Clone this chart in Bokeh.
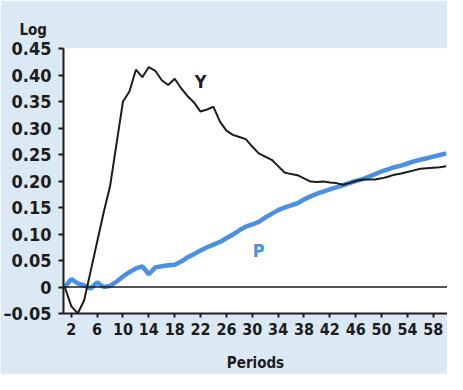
from bokeh.plotting import figure
from bokeh.models import Range1d, FixedTicker, Span, Label, Title
from bokeh.embed import file_html
from bokeh.resources import INLINE

periods = list(range(1, 61))
y_values = [0.0, -0.036, -0.05, -0.025, 0.03, 0.085, 0.14, 0.19, 0.27, 0.35,
            0.369, 0.41, 0.396, 0.415, 0.408, 0.39, 0.381, 0.393, 0.375, 0.36,
            0.348, 0.331, 0.335, 0.34, 0.312, 0.295, 0.287, 0.283, 0.279, 0.265,
            0.252, 0.246, 0.24, 0.228, 0.216, 0.213, 0.211, 0.205, 0.199, 0.198,
            0.199, 0.197, 0.196, 0.193, 0.196, 0.2, 0.203, 0.203, 0.203, 0.205,
            0.208, 0.212, 0.214, 0.217, 0.22, 0.223, 0.224, 0.225, 0.226, 0.228]
p_values = [0.0, 0.015, 0.007, 0.003, -0.003, 0.009, 0.0, 0.002, 0.01, 0.02,
            0.028, 0.035, 0.039, 0.024, 0.037, 0.039, 0.041, 0.042, 0.048, 0.056,
            0.062, 0.069, 0.075, 0.08, 0.085, 0.092, 0.099, 0.107, 0.114, 0.118,
            0.123, 0.131, 0.138, 0.145, 0.15, 0.154, 0.158, 0.165, 0.171, 0.176,
            0.18, 0.184, 0.188, 0.192, 0.196, 0.2, 0.203, 0.208, 0.213, 0.218,
            0.222, 0.226, 0.229, 0.233, 0.237, 0.24, 0.243, 0.246, 0.249, 0.252]
x_ticks = [2, 6, 10, 14, 18, 22, 26, 30, 34, 38, 42, 46, 50, 54, 58]
y_ticks = [-0.05, 0, 0.05, 0.1, 0.15, 0.2, 0.25, 0.3, 0.35, 0.4, 0.45]
y_tick_labels = ["\u20130.05", "0", "0.05", "0.10", "0.15", "0.20", "0.25",
                 "0.30", "0.35", "0.40", "0.45"]
y_unit_label = "Log"
x_axis_label = "Periods"
series_names = ["Y", "P"]

FONT = "DejaVu Sans Condensed"
BG = "#dbe9f5"
BLUE = "#4a8fe2"
INK = "#1c1c1c"

p = figure(width=447, height=374, output_backend="svg", toolbar_location=None,
           x_range=Range1d(0.8, 60.2), y_range=Range1d(-0.05, 0.45),
           min_border_left=60, min_border_right=0, min_border_top=48,
           min_border_bottom=59)
p.background_fill_color = "white"
p.border_fill_color = BG
p.outline_line_color = None
p.grid.visible = False

p.line(periods, p_values, line_color=BLUE, line_width=4.5)
p.line(periods, y_values, line_color=INK, line_width=2)
p.add_layout(Span(location=0, dimension="width", line_color=INK, line_width=1.3))

# axes
p.yaxis.ticker = FixedTicker(ticks=y_ticks)
p.yaxis.major_label_overrides = {t: l for t, l in zip(y_ticks, y_tick_labels)}
p.yaxis.minor_tick_line_color = None
p.yaxis.major_tick_out = 5
p.yaxis.major_tick_in = 0
p.yaxis.major_label_standoff = 7

p.xaxis.ticker = FixedTicker(ticks=x_ticks, minor_ticks=periods)
p.xaxis.major_tick_out = 4
p.xaxis.major_tick_in = 0
p.xaxis.minor_tick_out = 4
p.xaxis.minor_tick_in = 0
p.xaxis.major_label_standoff = 5
p.xaxis.axis_label = x_axis_label
p.xaxis.axis_label_standoff = 16

for ax in (p.xaxis, p.yaxis):
    ax.axis_line_color = INK
    ax.axis_line_width = 2
    ax.major_tick_line_color = INK
    ax.major_tick_line_width = 2
    ax.minor_tick_line_color = INK if ax is p.xaxis else None
    ax.minor_tick_line_width = 1.5
    ax.major_label_text_font = FONT
    ax.major_label_text_font_style = "bold"
    ax.major_label_text_color = INK
    ax.axis_label_text_font = FONT
    ax.axis_label_text_font_style = "bold"
    ax.axis_label_text_color = INK
    ax.axis_label_text_font_size = "15px"
p.yaxis.major_label_text_font_size = "18px"
p.xaxis.major_label_text_font_size = "16px"

p.add_layout(Title(text=y_unit_label, text_font=FONT, text_font_style="bold",
                   text_font_size="15px", text_color=INK, align="left",
                   offset=-44, standoff=20), "above")
p.add_layout(Label(x=22.0, y=0.387, text=series_names[0], text_font=FONT,
                   text_font_style="bold", text_font_size="18px",
                   text_color=INK, text_align="center", text_baseline="middle"))
p.add_layout(Label(x=31.0, y=0.068, text=series_names[1], text_font=FONT,
                   text_font_style="bold", text_font_size="18px",
                   text_color=BLUE, text_align="center", text_baseline="middle"))

open("out.html", "w").write(file_html(p, INLINE))
